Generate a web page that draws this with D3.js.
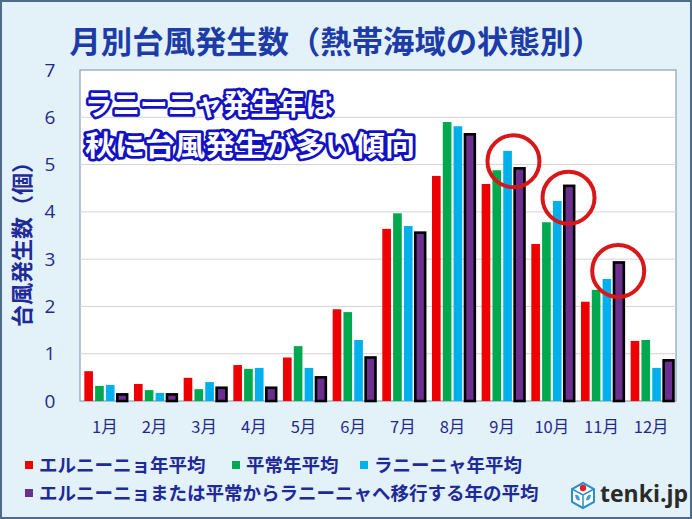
<!DOCTYPE html>
<html><head><meta charset="utf-8">
<script src="https://cdn.jsdelivr.net/npm/d3@7"></script>
<style>
html,body{margin:0;padding:0;background:#e3f1f8;}
svg{display:block;font-family:"Noto Sans CJK JP","Noto Sans",sans-serif;}
</style></head>
<body>
<svg id="chart" width="692" height="519"></svg>
<script>
const months = ["1月","2月","3月","4月","5月","6月","7月","8月","9月","10月","11月","12月"];
const seriesNames = ["エルニーニョ年平均","平常年平均","ラニーニャ年平均","エルニーニョまたは平常からラニーニャへ移行する年の平均"];
const elNino   = [0.63,0.36,0.49,0.76,0.92,1.94,3.64,4.76,4.59,3.32,2.10,1.27];
const normal   = [0.32,0.23,0.25,0.68,1.16,1.88,3.97,5.90,4.88,3.78,2.35,1.29];
const laNina   = [0.34,0.17,0.40,0.70,0.70,1.29,3.70,5.81,5.29,4.23,2.58,0.70];
const toLaNina = [0.14,0.14,0.28,0.28,0.50,0.92,3.56,5.64,4.92,4.55,2.93,0.86];
const yTicks = [0,1,2,3,4,5,6,7];
const colors = ["#ee0000","#00a850","#00b0ec","#6b2f8f"];
// highlighted months (circles): month, series indices for centre, value at centre
const highlights = [
  {month:"9月",  series:[2,3], value:5.07},
  {month:"10月", series:[3,3], value:4.30},
  {month:"11月", series:[3,3], value:2.75}
];

const values = [elNino, normal, laNina, toLaNina];
const svg = d3.select("#chart");
const W = 692, H = 519;
const plot = {left:80, right:676, top:70, bottom:401};

// background + frame
svg.append("rect").attr("x",1).attr("y",1).attr("width",W-2).attr("height",H-2)
  .attr("fill","#e3f1f8").attr("stroke","#4f6b8c").attr("stroke-width",2);

const x = d3.scaleBand().domain(months).range([plot.left, plot.right]).padding(0);
const x1 = d3.scaleBand().domain([0,1,2,3]).range([0, x.bandwidth()]).paddingInner(0.2).paddingOuter(0.4);
const y = d3.scaleLinear().domain([0,7]).range([plot.bottom, plot.top]);

// plot area
svg.append("rect").attr("x",plot.left).attr("y",plot.top)
  .attr("width",plot.right-plot.left).attr("height",plot.bottom-plot.top)
  .attr("fill","#ffffff").attr("stroke","#8c9fb4").attr("stroke-width",1.2);

// gridlines
svg.append("g").selectAll("line").data(yTicks.filter(t=>t>0 && t<7)).join("line")
  .attr("x1",plot.left).attr("x2",plot.right)
  .attr("y1",d=>y(d)).attr("y2",d=>y(d))
  .attr("stroke","#d4d4d4").attr("stroke-width",1);

// y axis labels
const yAxis = d3.axisLeft(y).tickValues(yTicks).tickFormat(d3.format("d")).tickSize(0).tickPadding(0);
const ya = svg.append("g").attr("transform",`translate(50,0)`).call(yAxis);
ya.select(".domain").remove();
ya.selectAll("text").attr("font-size",19).attr("fill","#1f2a8e")
  .attr("font-family","'Open Sans','Noto Sans',sans-serif").attr("text-anchor","middle");

// x axis labels
const xAxis = d3.axisBottom(x).tickSize(0).tickPadding(0);
const xa = svg.append("g").attr("transform",`translate(0,421)`).call(xAxis);
xa.select(".domain").remove();
xa.selectAll("text").attr("font-size",16.5).attr("fill","#1f2a8e")
  .attr("font-family","'Noto Sans CJK JP',sans-serif");

// bars
const groups = svg.append("g").selectAll("g").data(months).join("g")
  .attr("transform",d=>`translate(${x(d)},0)`);
groups.selectAll("rect").data((m,i)=>values.map((s,k)=>({k, v:s[i]}))).join("rect")
  .attr("x",d=>x1(d.k) + (d.k===3?0.6:0))
  .attr("width",d=>x1.bandwidth() + (d.k===3?1.2:0))
  .attr("y",d=>y(d.v))
  .attr("height",d=>y(0)-y(d.v))
  .attr("fill",d=>colors[d.k])
  .attr("stroke",d=>d.k===3?"#000":"none")
  .attr("stroke-width",d=>d.k===3?2.6:0);

// circles
svg.append("g").selectAll("circle").data(highlights).join("circle")
  .attr("cx",d=>{const a=x(d.month)+x1(d.series[0])+x1.bandwidth()/2, b=x(d.month)+x1(d.series[1])+x1.bandwidth()/2; return (a+b)/2 + 0.5;})
  .attr("cy",d=>y(d.value))
  .attr("r",26)
  .attr("fill","none").attr("stroke","#d81818").attr("stroke-width",4);

// title
svg.append("text").attr("x",336).attr("y",53).attr("text-anchor","middle")
  .attr("font-size",31).attr("font-weight","bold").attr("fill","#1d3ca8")
  .attr("textLength",533).attr("lengthAdjust","spacingAndGlyphs")
  .text("月別台風発生数（熱帯海域の状態別）");

// y title
svg.append("text").attr("transform","translate(30,239) rotate(-90)")
  .attr("text-anchor","middle").attr("font-size",22).attr("font-weight","bold")
  .attr("fill","#1f2a9a").text("台風発生数（個）");

// annotation text
const annLines = [{t:"ラニーニャ発生年は", y:115, len:248},{t:"秋に台風発生が多い傾向", y:156, len:330}];
svg.append("g").selectAll("text").data(annLines).join("text")
  .attr("x",85).attr("y",d=>d.y).attr("font-size",28).attr("font-weight","bold")
  .attr("textLength",d=>d.len).attr("lengthAdjust","spacingAndGlyphs")
  .attr("fill","#ffffff").attr("stroke","#1212c4").attr("stroke-width",5.5)
  .attr("stroke-linejoin","round").attr("paint-order","stroke")
  .text(d=>d.t);

// legend
const legendItems = [
  {i:0, x:25, y:465},
  {i:1, x:232, y:465},
  {i:2, x:360, y:465},
  {i:3, x:25, y:493}
];
const lg = svg.append("g").selectAll("g").data(legendItems).join("g")
  .attr("transform",d=>`translate(${d.x},${d.y})`);
lg.append("rect").attr("x",0).attr("y",-4).attr("width",8).attr("height",8)
  .attr("fill",d=>colors[d.i]);
lg.append("text").attr("x",14).attr("y",0).attr("dy","0.36em")
  .attr("font-size",18.5).attr("font-weight","bold").attr("fill","#1e2a9a")
  .text(d=>seriesNames[d.i]);

// tenki.jp logo
const logo = svg.append("g").attr("transform","translate(570,481)");
logo.append("path").attr("d","M13,2 L24,8 L24,21 L13,27 L2,21 L2,8 Z")
  .attr("fill","#ffffff").attr("stroke","#2a8fc8").attr("stroke-width",2);
logo.append("path").attr("d","M2,8 L13,14 L24,8 M13,14 L13,27").attr("fill","none")
  .attr("stroke","#2a8fc8").attr("stroke-width",1.5);
logo.append("circle").attr("cx",13).attr("cy",7).attr("r",3.2).attr("fill","#e52020");
logo.append("path").attr("d","M5,14 Q9,13 10,19 Q6,21 5,14 Z M21,14 Q17,13 16,19 Q20,21 21,14 Z")
  .attr("fill","#3aa0d8");
svg.append("text").attr("x",600).attr("y",502).attr("font-size",23).attr("font-weight","bold")
  .attr("font-family","'Open Sans','Noto Sans',sans-serif").attr("fill","#2a2a2a")
  .text("tenki.jp");
</script>
</body></html>
